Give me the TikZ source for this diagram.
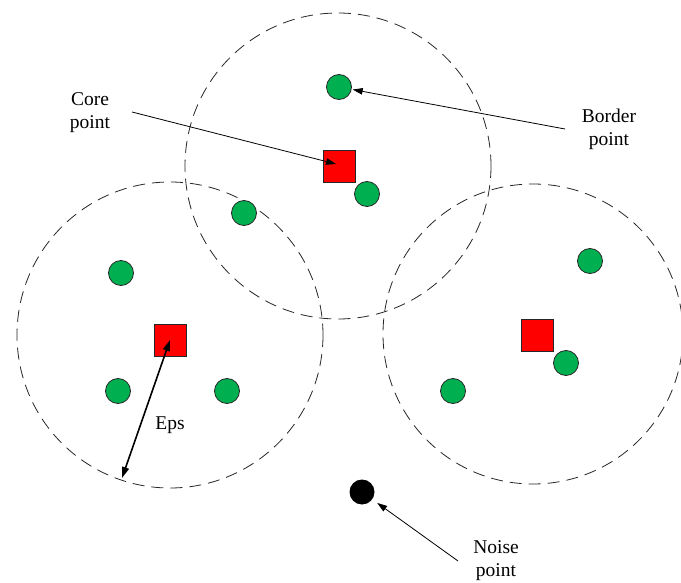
\documentclass[tikz,border=0pt]{standalone}
\usepackage{fontspec}
\setmainfont{Liberation Serif}
\usetikzlibrary{arrows.meta}
\definecolor{ptgreen}{HTML}{00B050}
\begin{document}
\begin{tikzpicture}[x=1pt,y=-1pt,
  region/.style={draw=black!85,line width=0.8pt,dash pattern=on 12pt off 7pt},
  border/.style={circle,draw=black!85,line width=0.8pt,fill=ptgreen,minimum size=25pt,inner sep=0pt},
  core/.style={rectangle,draw=black!85,line width=0.8pt,fill=red,minimum size=32pt,inner sep=0pt},
  noise/.style={circle,fill=black,minimum size=25pt,inner sep=0pt},
  lbl/.style={align=center,font=\fontsize{19.5}{23}\selectfont,inner sep=0pt},
  pointer/.style={line width=0.8pt,-{Triangle[length=10pt,width=6.5pt]}},
  epsline/.style={line width=1.6pt,{Triangle[length=11pt,width=7pt]}-{Triangle[length=11pt,width=7pt]}}
]
\useasboundingbox (0,0) rectangle (681,583);

% eps-neighbourhoods
\draw[region] (338,166) circle[radius=153];
\draw[region] (170,335) circle[radius=153];
\draw[region] (533,334) circle[radius=150];

% core points
\node[core] (sqT) at (339,166) {};
\node[core] (sqL) at (170,340) {};
\node[core] (sqR) at (537,335) {};

% border points
\node[border] (g1) at (339,87) {};
\node[border] (g2) at (367,194) {};
\node[border] (g3) at (244,213) {};
\node[border] (g4) at (121,273) {};
\node[border] (g5) at (118,391) {};
\node[border] (g6) at (227,391) {};
\node[border] (g7) at (590,261) {};
\node[border] (g8) at (566,363) {};
\node[border] (g9) at (453,391) {};

% noise point
\node[noise] (nz) at (362,492) {};

% labels
\node[lbl] (lcore) at (90,113) {Core\\point};
\node[lbl] (lborder) at (609,129) {Border\\point};
\node[lbl] (leps) at (170,425) {Eps};
\node[lbl] (lnoise) at (496,561) {Noise\\point};

% connectors
\coordinate (coreTail) at (132,112);
\coordinate (coreTip) at (336,164);
\coordinate (borderTail) at (565,129);
\coordinate (noiseTail) at (458,561);
\coordinate (epsEnd) at (122,478);
\draw[pointer] (coreTail) -- (coreTip);
\draw[pointer,shorten >=1pt] (borderTail) -- (g1);
\draw[pointer,shorten >=6pt] (noiseTail) -- (nz);
\draw[epsline] (epsEnd) -- (sqL.center);
\end{tikzpicture}
\end{document}
